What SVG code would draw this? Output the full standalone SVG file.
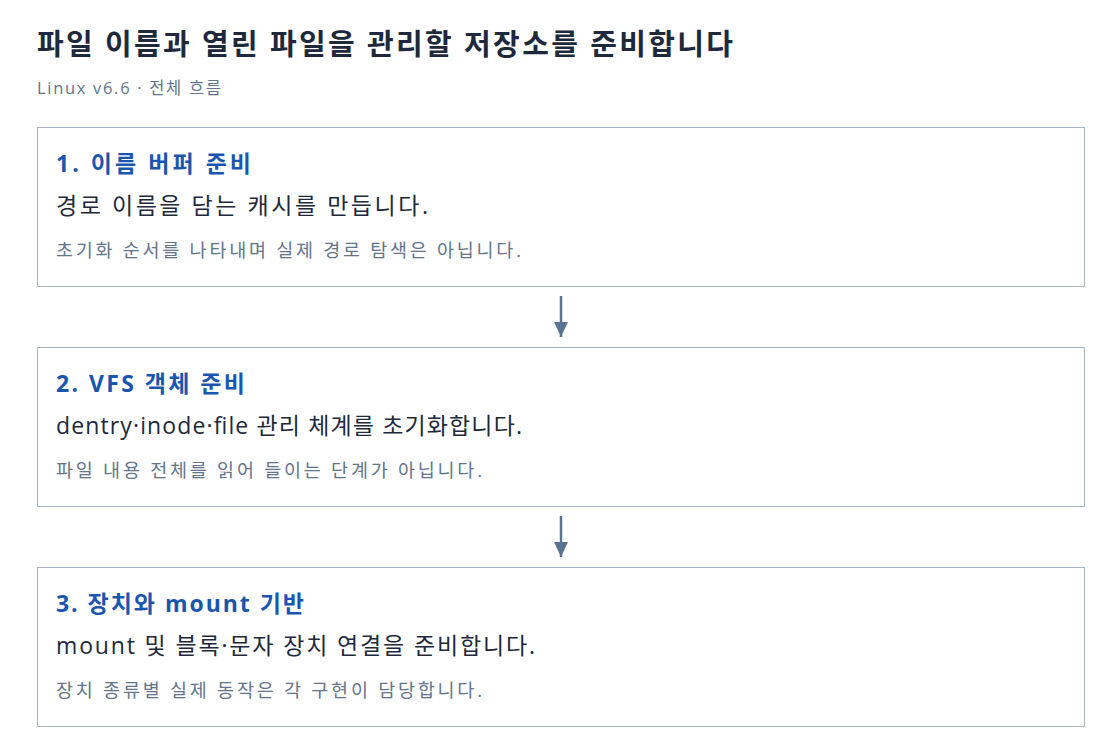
<svg xmlns="http://www.w3.org/2000/svg" width="1120" height="754" viewBox="0 0 1120 754">
<style>
text{font-family:"Open Sans","Noto Sans CJK KR",sans-serif}
.title{font-size:29px;font-weight:700;fill:#1e293b}
.sub{font-size:16.5px;fill:#64748b}
.box{fill:#ffffff;stroke:#a9b5c6;stroke-width:1}
.h{font-size:23px;font-weight:700;fill:#1a56b0}
.b{font-size:23px;fill:#1e293b}
.n{font-size:18.5px;fill:#64748b}
.conn{stroke:#5a7391;stroke-width:2.5;fill:none}
</style>
<defs>
<marker id="ah" markerWidth="15" markerHeight="14" refX="15" refY="7" orient="auto" markerUnits="userSpaceOnUse" viewBox="0 0 15 14">
<path d="M0,0 L15,7 L0,14 Z" fill="#5a7391"/>
</marker>
</defs>
<rect width="1120" height="754" fill="#ffffff"/>
<text class="title" x="37" y="55" textLength="696" lengthAdjust="spacing">파일 이름과 열린 파일을 관리할 저장소를 준비합니다</text>
<text class="sub" x="37" y="94" textLength="184" lengthAdjust="spacing">Linux v6.6 · 전체 흐름</text>
<g id="node1">
<rect class="box" x="37.5" y="127.5" width="1047" height="159"/>
<text class="h" x="56" y="172" textLength="195" lengthAdjust="spacing">1. 이름 버퍼 준비</text>
<text class="b" x="56" y="214" textLength="372" lengthAdjust="spacing">경로 이름을 담는 캐시를 만듭니다.</text>
<text class="n" x="56" y="257" textLength="465" lengthAdjust="spacing">초기화 순서를 나타내며 실제 경로 탐색은 아닙니다.</text>
</g>
<g id="node2">
<rect class="box" x="37.5" y="347.5" width="1047" height="159"/>
<text class="h" x="56" y="392" textLength="189" lengthAdjust="spacing">2. VFS 객체 준비</text>
<text class="b" x="56" y="434" textLength="466" lengthAdjust="spacing">dentry·inode·file 관리 체계를 초기화합니다.</text>
<text class="n" x="56" y="477" textLength="426" lengthAdjust="spacing">파일 내용 전체를 읽어 들이는 단계가 아닙니다.</text>
</g>
<g id="node3">
<rect class="box" x="37.5" y="567.5" width="1047" height="159"/>
<text class="h" x="56" y="612" textLength="248" lengthAdjust="spacing">3. 장치와 mount 기반</text>
<text class="b" x="56" y="654" textLength="479" lengthAdjust="spacing">mount 및 블록·문자 장치 연결을 준비합니다.</text>
<text class="n" x="56" y="697" textLength="426" lengthAdjust="spacing">장치 종류별 실제 동작은 각 구현이 담당합니다.</text>
</g>
<g id="connectors">
<line class="conn" x1="561" y1="296" x2="561" y2="337" marker-end="url(#ah)"/>
<line class="conn" x1="561" y1="516" x2="561" y2="557" marker-end="url(#ah)"/>
</g>
</svg>
